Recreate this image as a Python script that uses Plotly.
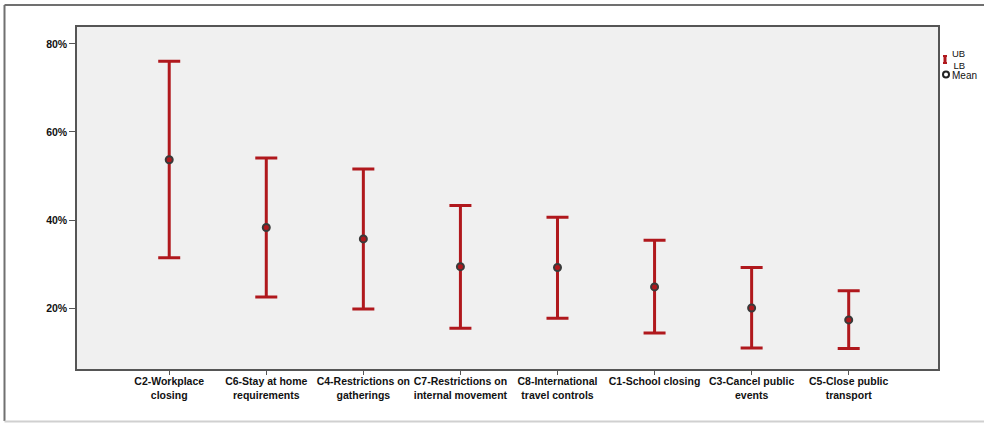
import plotly.graph_objects as go

categories = ["C2-Workplace<br>closing", "C6-Stay at home<br>requirements",
              "C4-Restrictions on<br>gatherings", "C7-Restrictions on<br>internal movement",
              "C8-International<br>travel controls", "C1-School closing",
              "C3-Cancel public<br>events", "C5-Close public<br>transport"]
mean_vals = [53.7, 38.3, 35.7, 29.4, 29.2, 24.8, 20.0, 17.3]
upper_vals = [76.1, 54.1, 51.6, 43.3, 40.6, 35.4, 29.2, 23.9]
lower_vals = [31.4, 22.5, 19.8, 15.4, 17.7, 14.3, 10.9, 10.8]
y_ticks = [20, 40, 60, 80]
y_tick_labels = ["20%", "40%", "60%", "80%"]

RED = "#b0181d"
AX = "#555555"
FONT = "Liberation Sans, Arial, sans-serif"

err_plus = [u - m for u, m in zip(upper_vals, mean_vals)]
err_minus = [m - l for m, l in zip(mean_vals, lower_vals)]

fig = go.Figure()
fig.add_trace(go.Scatter(
    x=categories, y=mean_vals, mode="markers",
    marker=dict(symbol="circle", size=7, color=RED, line=dict(color="#3a3a3a", width=2)),
    error_y=dict(type="data", symmetric=False, array=err_plus, arrayminus=err_minus,
                 color=RED, thickness=3, width=11),
    showlegend=False, hoverinfo="skip",
))

W, H = 984, 423
L, R, T, B = 77, 46, 27, 54
pw, ph = W - L - R, H - T - B

def px(xp):
    return (xp - L) / pw

def py(yp):
    return (H - B - yp) / ph

fig.update_layout(
    width=W, height=H,
    margin=dict(l=L, r=R, t=T, b=B),
    paper_bgcolor="white", plot_bgcolor="#f0f0f0",
    font=dict(family=FONT, size=10, color="#111111"),
    xaxis=dict(
        type="category", range=[-0.95, 7.92],
        showgrid=False, zeroline=False,
        showline=True, linecolor=AX, linewidth=1.5, mirror=True,
        ticks="outside", ticklen=4, tickcolor=AX, tickwidth=1,
        tickfont=dict(family=FONT, size=10.5, weight="bold", color="#111111"),
        tickangle=0, ticklabelstandoff=-2,
    ),
    yaxis=dict(
        range=[6.14, 83.86],
        tickvals=y_ticks, ticktext=y_tick_labels,
        showgrid=False, zeroline=False,
        showline=True, linecolor=AX, linewidth=1.5, mirror=True,
        ticks="outside", ticklen=6, tickcolor=AX, tickwidth=1.2,
        tickfont=dict(family=FONT, size=10.5, weight="bold", color="#111111"),
    ),
)

# outer frame
fig.add_shape(type="line", xref="paper", yref="paper", x0=px(4.5), x1=px(990), y0=py(5), y1=py(5),
              line=dict(color="#707070", width=2))
fig.add_shape(type="line", xref="paper", yref="paper", x0=px(4.5), x1=px(4.5), y0=py(5), y1=py(421),
              line=dict(color="#707070", width=2))
fig.add_shape(type="line", xref="paper", yref="paper", x0=px(4.5), x1=px(990), y0=py(421.5), y1=py(421.5),
              line=dict(color="#d0d0d0", width=2))

# custom legend
fig.add_shape(type="line", xref="paper", yref="paper", x0=px(945), x1=px(945), y0=py(56), y1=py(63),
              line=dict(color=RED, width=3))
fig.add_shape(type="line", xref="paper", yref="paper", x0=px(943), x1=px(947), y0=py(56), y1=py(56),
              line=dict(color=RED, width=2))
fig.add_shape(type="line", xref="paper", yref="paper", x0=px(943), x1=px(947), y0=py(63), y1=py(63),
              line=dict(color=RED, width=2))
fig.add_shape(type="circle", xref="paper", yref="paper", x0=px(943), x1=px(949), y0=py(71.5), y1=py(77.5),
              line=dict(color="#222222", width=2), fillcolor="white")
fig.add_annotation(xref="paper", yref="paper", x=px(951), y=py(59.5), text="UB<br>LB",
                   showarrow=False, xanchor="left", yanchor="middle", align="right",
                   borderpad=0, font=dict(family=FONT, size=9.5, color="#111111"))
fig.add_annotation(xref="paper", yref="paper", x=px(951), y=py(75), text="Mean",
                   showarrow=False, xanchor="left", yanchor="middle", align="left",
                   borderpad=0, font=dict(family=FONT, size=10, color="#111111"))

fig.write_html("out.html", config={"displayModeBar": False},
               post_script="document.body.style.margin='0px';document.body.style.overflow='hidden';")
